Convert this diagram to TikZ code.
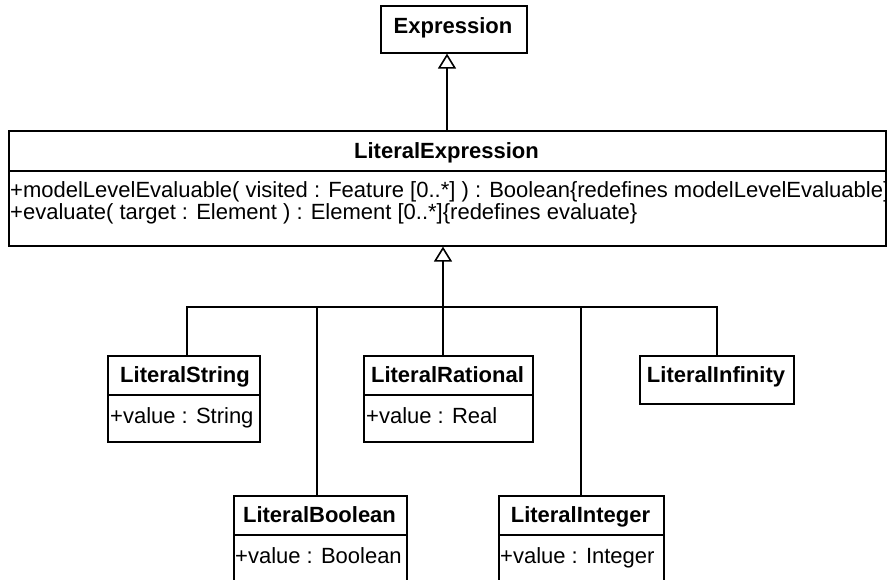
\documentclass[tikz,border=0pt]{standalone}
\usepackage{fontspec}
\setmainfont{Liberation Sans}
\usetikzlibrary{arrows.meta}
\begin{document}
\begin{tikzpicture}[x=1pt,y=-1pt,
  umlbox/.style={draw, line width=1.6pt, fill=white, inner sep=0pt, anchor=north west},
  ttl/.style={anchor=base, inner sep=0pt, font=\fontsize{22}{22}\selectfont\bfseries},
  attr/.style={anchor=base west, inner sep=0pt, font=\fontsize{22}{22}\selectfont},
  sep/.style={line width=1.6pt},
  conn/.style={line width=1.6pt},
  gen/.style={line width=1.6pt, -{Triangle[open, length=15pt, width=18pt]}}]
\useasboundingbox (0,0) rectangle (887,579);
\clip (0,0) rectangle (887,579);
\fill[white] (0,0) rectangle (887,579);

% Expression
\node[umlbox, minimum width=146pt, minimum height=47pt] (expr) at (380,5) {};
\node[ttl] (exprT) at (453,33) {Expression};

% LiteralExpression
\node[umlbox, minimum width=877pt, minimum height=115pt] (le) at (8,130) {};
\draw[sep] (le.west |- 0,171) coordinate (leS1) -- (le.east |- leS1) coordinate (leS2);
\node[ttl] (leT) at (446.5,158) {LiteralExpression};
\node[attr] (leA1) at (10,197) {+modelLevelEvaluable( visited : Feature [0..*] ) : Boolean\{redefines modelLevelEvaluable\}};
\node[attr] (leA2) at (10,219) {+evaluate( target : Element ) : Element [0..*]\{redefines evaluate\}};

% LiteralString
\node[umlbox, minimum width=152pt, minimum height=86pt] (ls) at (107,355) {};
\draw[sep] (ls.west |- 0,395) coordinate (lsS1) -- (ls.east |- lsS1);
\node[ttl] (lsT) at (185,382) {LiteralString};
\node[attr] (lsA) at (110,423) {+value : String};

% LiteralRational
\node[umlbox, minimum width=169pt, minimum height=86pt] (lr) at (363,355) {};
\draw[sep] (lr.west |- 0,395) coordinate (lrS1) -- (lr.east |- lrS1);
\node[ttl] (lrT) at (447.5,382) {LiteralRational};
\node[attr] (lrA) at (366,423) {+value : Real};

% LiteralInfinity
\node[umlbox, minimum width=154pt, minimum height=48pt] (li) at (639,355) {};
\node[ttl] (liT) at (716,382) {LiteralInfinity};

% LiteralBoolean
\node[umlbox, minimum width=173pt, minimum height=110pt] (lb) at (233,495) {};
\draw[sep] (lb.west |- 0,535) coordinate (lbS1) -- (lb.east |- lbS1);
\node[ttl] (lbT) at (319.5,522) {LiteralBoolean};
\node[attr] (lbA) at (235,563) {+value : Boolean};

% LiteralInteger
\node[umlbox, minimum width=165pt, minimum height=110pt] (lint) at (498,495) {};
\draw[sep] (lint.west |- 0,535) coordinate (lintS1) -- (lint.east |- lintS1);
\node[ttl] (lintT) at (580.5,522) {LiteralInteger};
\node[attr] (lintA) at (500,563) {+value : Integer};

% connectors
\coordinate (xe) at (447,0);
\coordinate (bar) at (0,307);
\coordinate (xs) at (187,0);
\coordinate (xb) at (317,0);
\coordinate (xr) at (443,0);
\coordinate (xi) at (581,0);
\coordinate (xf) at (717,0);

\draw[gen] (le.north -| xe) -- (expr.south -| xe);
\draw[gen] (xr |- bar) -- (le.south -| xr);
\draw[conn] (ls.north -| xs) -- (xs |- bar) -- (xf |- bar) -- (li.north -| xf);
\draw[conn] (xb |- bar) -- (lb.north -| xb);
\draw[conn] (xr |- bar) -- (lr.north -| xr);
\draw[conn] (xi |- bar) -- (lint.north -| xi);
\end{tikzpicture}
\end{document}
